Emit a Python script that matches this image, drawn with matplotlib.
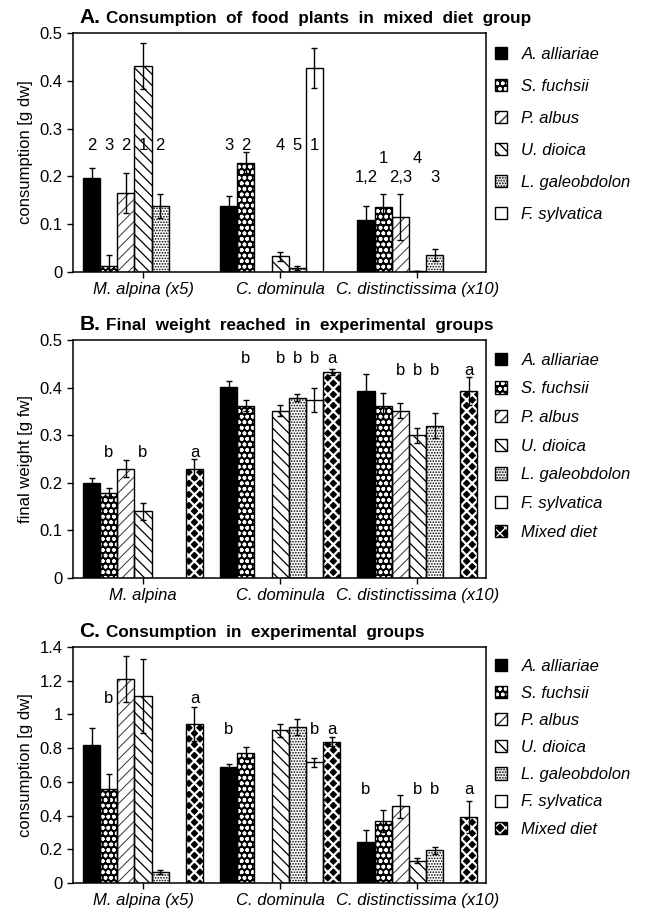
import numpy as np
import matplotlib
matplotlib.use("Agg")
import matplotlib.pyplot as plt
from matplotlib.patches import Patch
from matplotlib.legend_handler import HandlerTuple

plt.rcParams['font.family'] = ['Liberation Sans', 'DejaVu Sans']

nan = np.nan

SPECIES = ["A. alliariae", "S. fuchsii", "P. albus", "U. dioica",
           "L. galeobdolon", "F. sylvatica", "Mixed diet"]

GROUPS_AC = ["M. alpina (x5)", "C. dominula", "C. distinctissima (x10)"]
GROUPS_B = ["M. alpina", "C. dominula", "C. distinctissima (x10)"]

# panel A: consumption of food plants in mixed diet group (no mixed-diet bar)
a_mean = [[0.196, 0.012, 0.166, 0.431, 0.138, nan, nan],
          [0.138, 0.229, nan, 0.033, 0.008, 0.427, nan],
          [0.108, 0.136, 0.115, 0.003, 0.035, nan, nan]]
a_err = [[0.021, 0.023, 0.042, 0.049, 0.026, nan, nan],
         [0.021, 0.022, nan, 0.009, 0.004, 0.042, nan],
         [0.031, 0.028, 0.049, 0.0, 0.013, nan, nan]]
a_labels = [["2", "3", "2", "1", "2", "", ""],
            ["3", "2", "", "4", "5", "1", ""],
            ["1,2", "1", "2,3", "4", "3", "", ""]]
a_label_y = [[0.265] * 7,
             [0.265] * 7,
             [0.197, 0.237, 0.197, 0.237, 0.197, 0, 0]]

# panel B: final weight
b_mean = [[0.200, 0.179, 0.230, 0.140, nan, nan, 0.230],
          [0.402, 0.362, nan, 0.352, 0.379, 0.374, 0.433],
          [0.393, 0.362, 0.352, 0.300, 0.320, nan, 0.393]]
b_err = [[0.011, 0.010, 0.018, 0.018, nan, nan, 0.021],
         [0.011, 0.012, nan, 0.011, 0.008, 0.026, 0.007],
         [0.035, 0.027, 0.015, 0.016, 0.026, nan, 0.030]]
b_labels = [["", "b", "", "b", "", "", "a"],
            ["", "b", "", "b", "b", "b", "a"],
            ["", "", "b", "b", "b", "", "a"]]
b_label_y = [[0.264] * 7, [0.461] * 7, [0.437] * 7]

# panel C: consumption in experimental groups
c_mean = [[0.82, 0.56, 1.21, 1.11, 0.065, nan, 0.945],
          [0.69, 0.77, nan, 0.905, 0.925, 0.715, 0.838],
          [0.245, 0.365, 0.454, 0.132, 0.193, nan, 0.394]]
c_err = [[0.10, 0.087, 0.137, 0.22, 0.014, nan, 0.10],
         [0.018, 0.034, nan, 0.036, 0.045, 0.027, 0.026],
         [0.067, 0.065, 0.069, 0.016, 0.022, nan, 0.095]]
c_labels = [["", "b", "", "", "", "", "a"],
            ["b", "", "", "", "", "b", "a"],
            ["b", "", "", "b", "b", "", "a"]]
c_label_y = [[1.095] * 7, [0.911] * 7, [0.552] * 7]

# face colour, hatch colour, hatch, hatch linewidth
STYLE = [("black", "black", None, 1.0),
         ("black", "white", "ooo", 1.1),
         ("white", "#333333", "///", 0.7),
         ("white", "black", "\\\\\\", 0.9),
         ("white", "black", "......", 0.8),
         ("white", "black", None, 1.0),
         ("black", "white", "xxx", 1.6)]


def set_hlw(artist, lw):
    if hasattr(artist, "set_hatch_linewidth"):
        artist.set_hatch_linewidth(lw)


def panel(ax, means, errs, labels, label_y, groups, nser, ylim, yticks,
          ylabel, title_letter, title_text, label_spacing, leg_top):
    means = np.array(means, dtype=float)
    errs = np.array(errs, dtype=float)
    handles = []
    for j in range(nser):
        face, hcol, hatch, hlw = STYLE[j]
        x = np.arange(len(groups)) * 8 + j
        h = means[:, j]
        ok = ~np.isnan(h)
        bars = ax.bar(x[ok], h[ok], width=1.0, color=face, edgecolor=hcol,
                      hatch=hatch, linewidth=0, zorder=2)
        for b in bars:
            set_hlw(b, hlw)
        ax.bar(x[ok], h[ok], width=1.0, fill=False, edgecolor="black",
               linewidth=1.0, zorder=3)
        ax.errorbar(x[ok], h[ok], yerr=errs[ok, j], fmt="none", ecolor="black",
                    elinewidth=1.0, capsize=2.5, capthick=1.0, zorder=4)
        p1 = Patch(facecolor=face, edgecolor=hcol, hatch=hatch, linewidth=0)
        set_hlw(p1, hlw)
        p2 = Patch(fill=False, edgecolor="black", linewidth=1.0)
        handles.append((p1, p2))
        for g in range(len(groups)):
            t = labels[g][j]
            if t:
                ax.text(g * 8 + j, label_y[g][j], t, ha="center", va="center",
                        fontsize=12)
    ax.set_xlim(-1.08, 23.0)
    ax.set_ylim(*ylim)
    ax.set_yticks(yticks)
    ax.set_yticklabels([("%g" % v) for v in yticks], fontsize=12)
    ax.set_xticks(np.arange(len(groups)) * 8 + 3)
    ax.set_xticklabels(groups, fontsize=12, style="italic")
    ax.tick_params(axis="both", direction="out", length=4, width=1.0)
    ax.tick_params(axis="x", pad=3)
    for s in ax.spines.values():
        s.set_linewidth(1.1)
    ax.set_ylabel(ylabel, fontsize=12, labelpad=5)
    ax.legend(handles, SPECIES[:nser], loc="upper left",
              bbox_to_anchor=(1.005, leg_top), frameon=False,
              handler_map={tuple: HandlerTuple(ndivide=1)},
              handlelength=0.75, handleheight=0.75, handletextpad=0.85,
              labelspacing=label_spacing, borderaxespad=0.0,
              prop={"size": 12, "style": "italic"})
    t1 = ax.text(0.015, 1.025, title_letter, transform=ax.transAxes,
                 fontsize=15, fontweight="bold", ha="left", va="bottom")
    ax.annotate(title_text, xy=(1, 0), xycoords=t1, xytext=(4, 1),
                textcoords="offset points", fontsize=12.3, fontweight="bold",
                ha="left", va="bottom")


fig = plt.figure(figsize=(6.45, 9.1), dpi=100)
axA = fig.add_axes([0.1132, 0.7011, 0.6403, 0.2626])
axB = fig.add_axes([0.1132, 0.3648, 0.6403, 0.2615])
axC = fig.add_axes([0.1132, 0.0297, 0.6403, 0.2593])

panel(axA, a_mean, a_err, a_labels, a_label_y, GROUPS_AC, 6, (0, 0.5),
      [0, 0.1, 0.2, 0.3, 0.4, 0.5], "consumption [g dw]", "A.",
      "Consumption  of  food  plants  in  mixed  diet  group", 1.02, 0.97)
panel(axB, b_mean, b_err, b_labels, b_label_y, GROUPS_B, 7, (0, 0.5),
      [0, 0.1, 0.2, 0.3, 0.4, 0.5], "final weight [g fw]", "B.",
      "Final  weight  reached  in  experimental  groups", 0.82, 0.975)
panel(axC, c_mean, c_err, c_labels, c_label_y, GROUPS_AC, 7, (0, 1.4),
      [0, 0.2, 0.4, 0.6, 0.8, 1.0, 1.2, 1.4], "consumption [g dw]", "C.",
      "Consumption  in  experimental  groups", 0.73, 0.979)

fig.savefig("out.png", dpi=100)
